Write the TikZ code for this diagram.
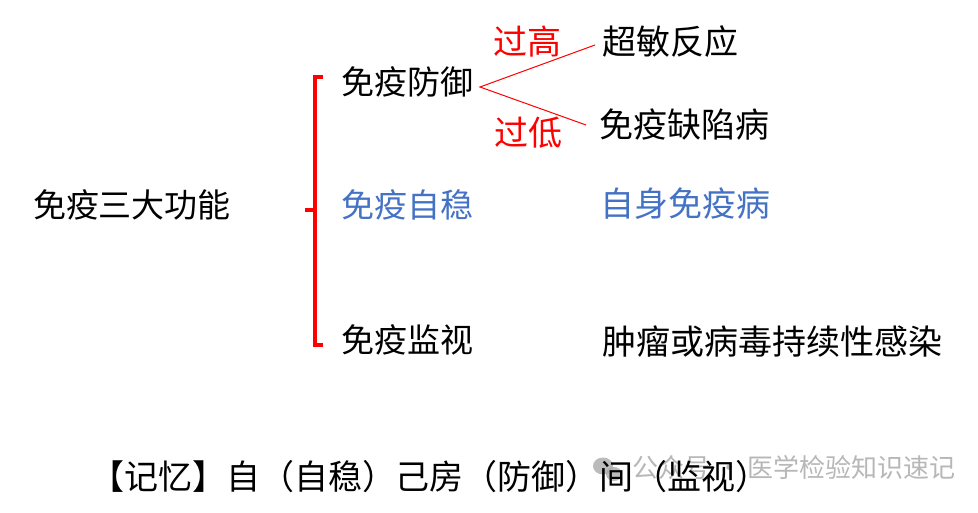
\documentclass[tikz,border=0pt]{standalone}
\usepackage{fontspec}
\newfontfamily\cjk{Noto Sans CJK SC}
\definecolor{myred}{HTML}{FF0000}
\definecolor{myblue}{HTML}{4472C4}
\definecolor{wmgray}{HTML}{ABABAB}
\begin{document}
\begin{tikzpicture}[x=1pt,y=-1pt,
  lbl/.style={inner sep=0pt,font=\cjk\fontsize{33}{38}\selectfont},
  big/.style={inner sep=0pt,font=\cjk\fontsize{34}{40}\selectfont},
  memo/.style={inner sep=0pt,font=\cjk\fontsize{34}{40}\selectfont},
  redlbl/.style={big,text=myred},
  bracket/.style={draw=myred,line width=3.5pt},
  branch/.style={draw=myred,line width=1pt},
  wm/.style={inner sep=0pt,text=wmgray,font=\cjk\fontsize{26}{30}\selectfont}]
\useasboundingbox (0,0) rectangle (978,513);
\fill[white] (0,0) rectangle (978,513);

% left title
\node[lbl] (main) at (132,205) {免疫三大功能};

% bracket
\coordinate (btop) at (323,77);
\coordinate (bbot) at (323,345);
\coordinate (bmid) at (305,210);
\draw[bracket,line cap=butt] (btop) -- (315,77) -- (315,345) -- (bbot);
\draw[bracket] (315,210) -- (bmid);

% three functions
\node[lbl] (fy) at (407,82) {免疫防御};
\node[lbl,text=myblue] (zw) at (407,205) {免疫自稳};
\node[lbl] (jk) at (407,340) {免疫监视};

% outcomes
\node[big] (cm) at (670,42) {超敏反应};
\node[big] (qx) at (684,125) {免疫缺陷病};
\node[big,text=myblue] (zs) at (685,204) {自身免疫病};
\node[big] (zl) at (772,342) {肿瘤或病毒持续性感染};

% branch lines
\coordinate (bs) at (480,87);
\coordinate (be1) at (595,45);
\coordinate (be2) at (586,125);
\draw[branch] (be1) -- (bs) -- (be2);
\node[redlbl] (gg) at (527,42) {过高};
\node[redlbl] (gd) at (528,133) {过低};

% watermark (behind bottom text)
\fill[wmgray,opacity=0.8] (603,466) ellipse (10pt and 8.5pt);
\fill[wmgray,opacity=0.8] (614,474) ellipse (8pt and 7pt);
\node[wm,opacity=0.85,anchor=west] (wmt) at (632,468) {公众号 · 医学检验知识速记};

% memory line
\node[memo] (mem) at (430,477) {【记忆】自（自稳）己房（防御）间（监视）};
\end{tikzpicture}
\end{document}
